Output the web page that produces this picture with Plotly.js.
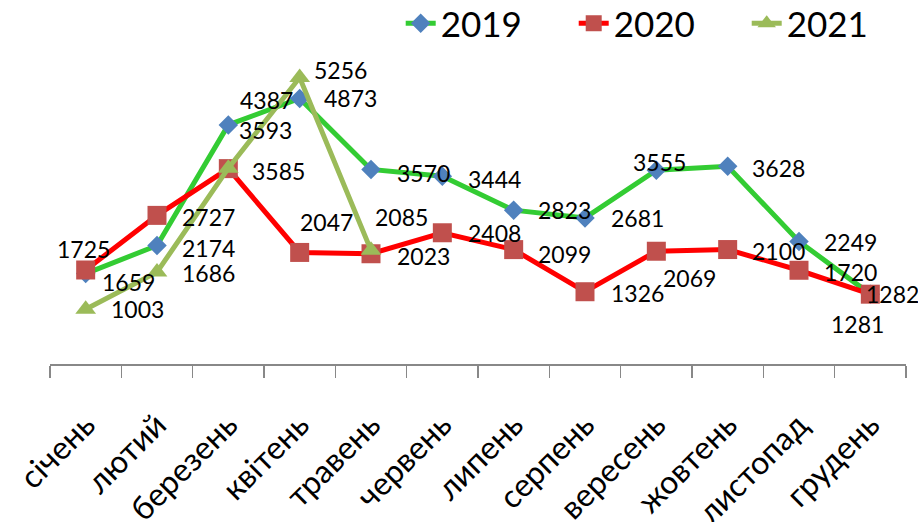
<!DOCTYPE html>
<html>
<head>
<meta charset="utf-8">
<script src="https://cdn.plot.ly/plotly-3.0.1.min.js"></script>
<style>html,body{margin:0;padding:0;background:#fff;}#chart{width:918px;height:522px;}</style>
</head>
<body>
<div id="chart"></div>
<script>
// ---- data ----
const months = ["січень", "лютий", "березень", "квітень", "травень", "червень", "липень", "серпень", "вересень", "жовтень", "листопад", "грудень"];
const seriesNames = ["2019", "2020", "2021"];
const y2019 = [1659, 2174, 4387, 4873, 3570, 3444, 2823, 2681, 3555, 3628, 2249, 1282];
const y2020 = [1725, 2727, 3585, 2047, 2023, 2408, 2099, 1326, 2069, 2100, 1720, 1281];
const y2021 = [1003, 1686, 3593, 5256, 2085];

// ---- label placement (style: pixel offsets from each point, dx right, dy down) ----
const off2019 = [[43,8],[51,2],[38,-25],[51,0],[52,4],[52,3],[51,0],[52,0],[3,-8],[51,2],[51,1],[22,0]];
const off2020 = [[-2,-21],[51,2],[50,2],[27,-30],[52,2],[52,0],[51,4],[52,1],[33,27],[51,1],[51,2],[-13,30]];
const off2021 = [[52,0],[51,1],[37,-38],[41,-8],[30,-33]];

const FONT = "Lato, 'Open Sans', sans-serif";

const traces = [
  {x: months, y: y2019, name: seriesNames[0], type: "scatter", mode: "lines+markers",
   line: {color: "#33CC33", width: 5},
   marker: {symbol: "diamond", size: 15, color: "#4F81BD", line: {width: 0}}},
  {x: months, y: y2020, name: seriesNames[1], type: "scatter", mode: "lines+markers",
   line: {color: "#FF0000", width: 5},
   marker: {symbol: "square", size: 19, color: "#C0504D", line: {width: 0}}},
  {x: months.slice(0, y2021.length), y: y2021, name: seriesNames[2], type: "scatter", mode: "lines+markers",
   line: {color: "#9BBB59", width: 5},
   marker: {symbol: "triangle-up", size: 18, color: "#9BBB59", line: {width: 0}}}
];

function labels(vals, offs) {
  return vals.map((v, i) => ({
    x: months[i], y: v, text: String(v), showarrow: false,
    xshift: offs[i][0], yshift: -offs[i][1],
    font: {family: FONT, size: 23, color: "#000"}
  }));
}
const annotations = [].concat(labels(y2019, off2019), labels(y2020, off2020), labels(y2021, off2021));

const layout = {
  width: 918, height: 522,
  margin: {l: 50, r: 12, t: 37, b: 158, autoexpand: false},
  paper_bgcolor: "#fff", plot_bgcolor: "#fff",
  font: {family: FONT, color: "#000"},
  showlegend: true,
  legend: {orientation: "h", xref: "container", yref: "container", x: 0.4365, y: 0.955,
           xanchor: "left", yanchor: "middle", font: {family: FONT, size: 35, color: "#000"},
           entrywidth: 128, entrywidthmode: "pixels", bgcolor: "rgba(0,0,0,0)"},
  xaxis: {type: "category", range: [-0.5, 11.5], showline: true, linecolor: "#888", linewidth: 1.5,
          ticks: "outside", tickson: "boundaries", ticklen: 12, tickcolor: "#888", tickwidth: 1.5,
          showgrid: false, zeroline: false, tickangle: -45, ticklabelstandoff: 28,
          tickfont: {family: FONT, size: 32, color: "#000"}},
  yaxis: {visible: false, range: [0, 6000], showgrid: false, zeroline: false},
  annotations: annotations
};

Plotly.newPlot("chart", traces, layout, {displayModeBar: false, staticPlot: true});
</script>
</body>
</html>
